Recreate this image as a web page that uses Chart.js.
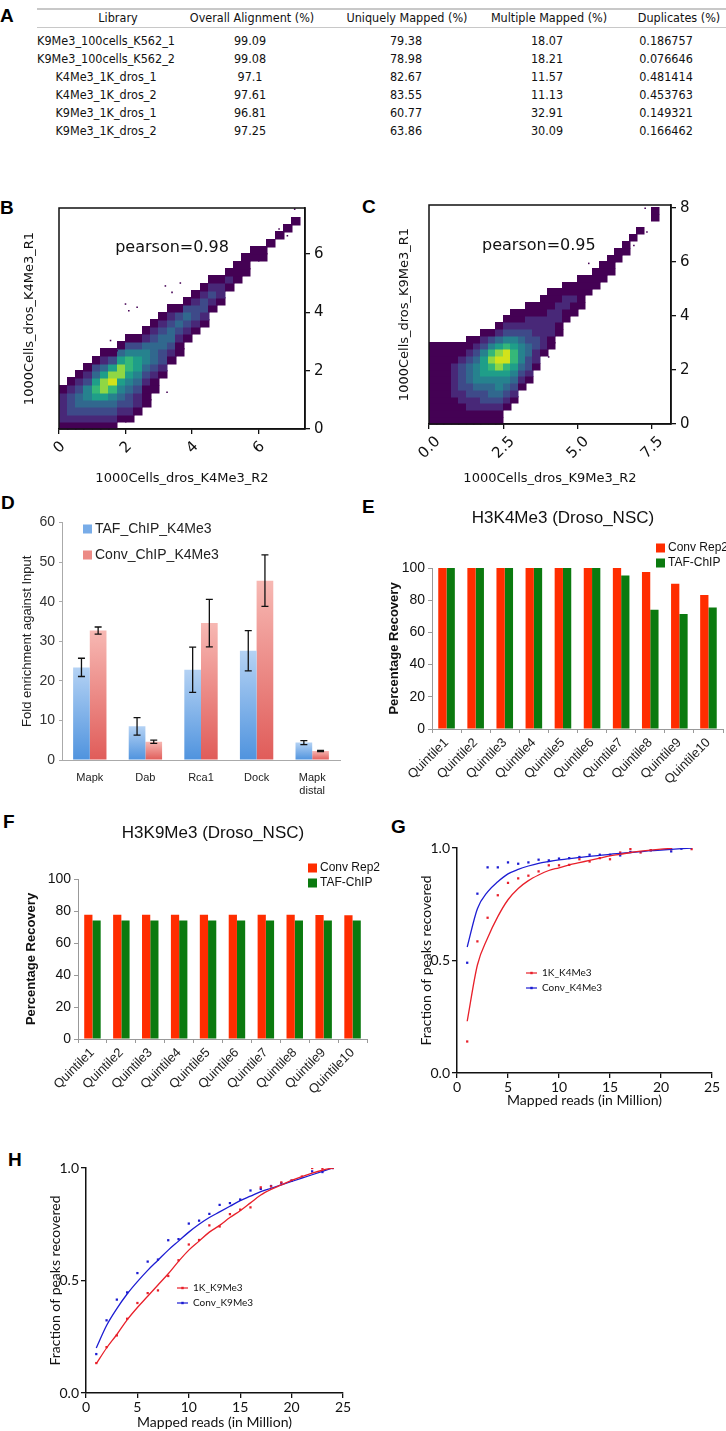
<!DOCTYPE html>
<html>
<head>
<meta charset="utf-8">
<script src="https://cdn.jsdelivr.net/npm/chart.js@4.4.1/dist/chart.umd.min.js"></script>
<style>
  body { margin: 0; background: #fff; }
  #page { position: relative; width: 726px; height: 1431px; overflow: hidden; background: #fff; }
  .letter { position: absolute; font: bold 19px "Liberation Sans", Arial, sans-serif; line-height: 20px; color: #000; }
  .cell { position: absolute; transform: translateX(-50%); white-space: nowrap;
          font-family: "Liberation Sans Narrow", "DejaVu Sans Condensed", sans-serif; font-stretch: condensed;
          font-size: 12.5px; line-height: 14px; color: #111; }
  .rule { position: absolute; left: 37px; width: 689px; background: #c8c8c8; }
  canvas { position: absolute; }
</style>
</head>
<body>
<div id="page">
  <div class="letter" style="left:0px;top:6px">A</div>
  <div class="letter" style="left:0px;top:198px">B</div>
  <div class="letter" style="left:362px;top:197px">C</div>
  <div class="letter" style="left:1px;top:493px">D</div>
  <div class="letter" style="left:362px;top:497px">E</div>
  <div class="letter" style="left:3px;top:812px">F</div>
  <div class="letter" style="left:391px;top:817px">G</div>
  <div class="letter" style="left:8px;top:1150px">H</div>
  <div class="rule" style="top:8px;height:2px"></div>
  <div class="rule" style="top:27px;height:1px"></div>
</div>
<script>
// ---------- A: alignment table ----------
const tableHeader = ["Library", "Overall Alignment (%)", "Uniquely Mapped (%)", "Multiple Mapped (%)", "Duplicates (%)"];
const libraries = ["K9Me3_100cells_K562_1", "K9Me3_100cells_K562_2", "K4Me3_1K_dros_1", "K4Me3_1K_dros_2", "K9Me3_1K_dros_1", "K9Me3_1K_dros_2"];
const overallAlignment = ["99.09", "99.08", "97.1", "97.61", "96.81", "97.25"];
const uniquelyMapped = ["79.38", "78.98", "82.67", "83.55", "60.77", "63.86"];
const multipleMapped = ["18.07", "18.21", "11.57", "11.13", "32.91", "30.09"];
const duplicates = ["0.186757", "0.076646", "0.481414", "0.453763", "0.149321", "0.166462"];

// ---------- B / C: density scatter (levels 1-9 per 0.25 x 0.25 cell, [first y bin, levels]) ----------
const densityBin = 0.25;
const k4me3Density = [
  [0, "122221"], [0, "1233321"], [0, "12344321"], [0, "123455321"],
  [0, "1234676431"], [0, "12346886421"], [0, "12345798631"], [1, "12345688641"],
  [1, "123345677531"], [2, "12234566531"], [3, "11123455421"], [5, "1123444321"],
  [7, "123344321"], [9, "12344321"], [10, "1123431"], [12, "123431"],
  [13, "123321"], [14, "123321"], [16, "12321"], [17, "1221"],
  [19, "121"], [20, "111"], [21, "111"], [23, "11"], [23, "11"],
  [25, "1"], [26, "1"], [27, "1"], [28, "1"]
];
const k4me3Outliers = [[2.0, 4.28], [2.1, 4.05], [2.35, 4.17], [3.2, 4.9], [3.65, 5.0], [3.4, 4.68],
  [1.55, 3.03], [1.75, 2.68], [3.25, 1.26], [2.3, 0.51], [6.62, 6.85], [6.97, 6.9], [7.09, 7.53], [6.87, 6.62]];
const k9me3Density = [
  [0, "111111111111"], [0, "111111111111"], [0, "111111111111"], [0, "111122222111"],
  [0, "111223333211"], [0, "1122334443211"], [0, "1122345554321"], [0, "11233456665321"],
  [0, "11234456787531"], [0, "112345568986421"], [2, "12345679975321"], [3, "12345677653211"],
  [5, "123455543211"], [6, "123344332211"], [8, "1223322211"], [10, "122222111"],
  [11, "112222111"], [13, "1122211"], [15, "112211"], [16, "11211"],
  [17, "11111"], [19, "111"], [20, "111"], [21, "111"], [22, "111"],
  [24, "11"], [25, "11"], [27, "1"], [28, "1"], [0, ""], [30, "11"]
];
const k9me3Outliers = [[4.03, 2.48], [6.9, 6.6], [7.28, 7.98], [7.68, 8.0], [7.68, 7.54], [7.34, 7.1], [5.38, 5.94], [1.28, 3.1]];

// ---------- D: qPCR fold enrichment ----------
const genes = [["Mapk"], ["Dab"], ["Rca1"], ["Dock"], ["Mapk", "distal"]];
const tafChip = [23.4, 8.5, 22.8, 27.6, 4.4];
const tafChipErr = [2.3, 2.2, 5.7, 5.1, 0.5];
const convChip = [32.7, 4.6, 34.6, 45.3, 2.3];
const convChipErr = [0.9, 0.4, 6.0, 6.5, 0.15];

// ---------- E / F: percentage recovery ----------
const quintiles = ["Quintile1", "Quintile2", "Quintile3", "Quintile4", "Quintile5", "Quintile6", "Quintile7", "Quintile8", "Quintile9", "Quintile10"];
const k4ConvRep2 = [100, 100, 100, 100, 100, 100, 100, 97.5, 90.2, 83.2];
const k4TafChip = [100, 100, 100, 100, 100, 100, 95.4, 74.0, 71.5, 75.5];
const k9ConvRep2 = [77.7, 77.7, 77.7, 77.7, 77.7, 77.7, 77.7, 77.6, 77.5, 77.4];
const k9TafChip = [74.0, 74.0, 74.0, 74.0, 74.0, 74.0, 74.0, 74.0, 74.0, 74.0];

// ---------- G / H: saturation curves ----------
const readsG = [1, 2, 3, 4, 5, 6, 7, 8, 9, 10, 11, 12, 13, 14, 15, 16, 17, 18, 19, 20, 21, 22, 23];
const k4OneK = [0.14, 0.585, 0.69, 0.79, 0.845, 0.865, 0.877, 0.896, 0.923, 0.923, 0.925, 0.95, 0.94, 0.955, 0.95, 0.98, 0.995, 0.98, 0.99, null, 0.995, null, 0.995];
const k4OneKFit = [0.23, 0.48, 0.6, 0.695, 0.77, 0.82, 0.855, 0.88, 0.9, 0.912, 0.925, 0.935, 0.945, 0.955, 0.965, 0.972, 0.98, 0.986, 0.991, 0.995, 0.998, null, null];
const k4Conv = [0.49, 0.797, 0.914, 0.914, 0.936, 0.93, 0.936, 0.948, 0.945, 0.953, 0.955, 0.96, 0.97, 0.97, 0.97, 0.967, 0.982, null, 0.99, null, 0.985, 0.997, null];
const k4ConvFit = [0.56, 0.73, 0.805, 0.85, 0.885, 0.905, 0.92, 0.932, 0.94, 0.947, 0.953, 0.958, 0.963, 0.967, 0.972, 0.976, 0.98, 0.984, 0.988, 0.991, 0.994, 0.997, 1.0];
const readsH = [1, 2, 3, 4, 5, 6, 7, 8, 9, 10, 11, 12, 13, 14, 15, 16, 17, 18, 19, 20, 21, 22, 23, 24];
const k9OneK = [0.133, 0.204, 0.256, 0.33, 0.40, 0.444, 0.456, 0.52, 0.59, 0.66, 0.68, 0.745, 0.74, 0.795, 0.815, 0.825, 0.914, 0.918, 0.936, 0.944, 0.962, 1.0, 0.997, 1.0];
const k9OneKFit = [0.13, 0.2, 0.26, 0.325, 0.38, 0.43, 0.48, 0.53, 0.585, 0.635, 0.675, 0.715, 0.745, 0.78, 0.81, 0.845, 0.88, 0.905, 0.925, 0.945, 0.962, 0.977, 0.99, 1.0];
const k9Conv = [0.173, 0.323, 0.415, 0.447, 0.533, 0.584, 0.593, 0.679, 0.684, 0.753, 0.766, 0.796, 0.836, 0.844, 0.86, 0.9, 0.907, 0.92, 0.933, 0.944, null, 0.985, 0.982, 1.0];
const k9ConvFit = [0.2, 0.3, 0.375, 0.44, 0.495, 0.545, 0.59, 0.635, 0.675, 0.715, 0.75, 0.78, 0.805, 0.83, 0.855, 0.875, 0.895, 0.91, 0.925, 0.94, 0.955, 0.97, 0.985, 1.0];

// ================= drawing =================
const page = document.getElementById("page");

// table
const headerX = [118, 252, 407, 549, 679];
const valueX = [106, 250, 406, 547, 666];
const rowY = [41, 59, 77, 95, 113, 131];
function addCell(text, x, y) {
  const d = document.createElement("div");
  d.className = "cell";
  d.textContent = text;
  d.style.left = x + "px";
  d.style.top = (y - 7) + "px";
  page.appendChild(d);
}
tableHeader.forEach((h, i) => addCell(h, headerX[i], 18));
[libraries, overallAlignment, uniquelyMapped, multipleMapped, duplicates].forEach((col, c) => {
  col.forEach((v, r) => addCell(v, valueX[c], rowY[r]));
});

Chart.defaults.animation = false;
Chart.defaults.color = "#000";
Chart.defaults.font.family = '"Liberation Sans", Arial, sans-serif';
Chart.defaults.plugins.legend.display = false;
Chart.defaults.plugins.tooltip.enabled = false;

function makeCanvas(left, top, w, h) {
  const c = document.createElement("canvas");
  c.width = w; c.height = h;
  c.style.left = left + "px"; c.style.top = top + "px";
  c.style.width = w + "px"; c.style.height = h + "px";
  page.appendChild(c);
  return c;
}
const fixW = n => s => { s.width = n; };
const fixH = n => s => { s.height = n; };

const viridis = [null, "#440154", "#482878", "#3e4a89", "#31688e", "#26828e", "#1f9e89", "#35b779", "#8fd744", "#d2e21b"];

const heatPlugin = {
  id: "heat",
  beforeDatasetsDraw(chart, args, o) {
    const { ctx, scales: { x, y } } = chart;
    ctx.save();
    o.columns.forEach(([start, levels], i) => {
      const x0 = x.getPixelForValue(i * o.bin), x1 = x.getPixelForValue((i + 1) * o.bin);
      for (let k = 0; k < levels.length; k++) {
        const lv = +levels[k];
        if (!lv) continue;
        const j = start + k;
        const y0 = y.getPixelForValue(j * o.bin), y1 = y.getPixelForValue((j + 1) * o.bin);
        ctx.fillStyle = viridis[lv];
        ctx.fillRect(Math.floor(x0), Math.floor(y1), Math.ceil(x1 - x0) + 0.5, Math.ceil(y0 - y1) + 0.5);
      }
    });
    ctx.restore();
  }
};

const framePlugin = {
  id: "frame",
  afterDatasetsDraw(chart, args, o) {
    const { ctx, chartArea: a } = chart;
    ctx.save();
    ctx.strokeStyle = o.color; ctx.lineWidth = o.width;
    ctx.strokeRect(a.left, a.top, a.right - a.left, a.bottom - a.top);
    ctx.restore();
  }
};

const notesPlugin = {
  id: "notes",
  afterDraw(chart, args, o) {
    const ctx = chart.ctx;
    ctx.save();
    o.items.forEach(it => {
      ctx.font = it.font;
      ctx.fillStyle = it.color || "#000";
      ctx.textAlign = it.align || "center";
      ctx.textBaseline = "middle";
      const px = it.data ? chart.scales.x.getPixelForValue(it.x) : it.x;
      const py = it.data ? chart.scales.y.getPixelForValue(it.y) : it.y;
      ctx.fillText(it.text, px, py);
    });
    ctx.restore();
  }
};

const keysPlugin = {
  id: "keys",
  afterDraw(chart, args, o) {
    const ctx = chart.ctx;
    ctx.save();
    ctx.font = o.font;
    ctx.textBaseline = "middle";
    ctx.textAlign = "left";
    o.which.forEach((di, k) => {
      const ds = chart.data.datasets[di];
      const y = o.y + k * o.dy;
      if (o.kind === "line") {
        ctx.strokeStyle = ds.keyColor; ctx.lineWidth = 1.2;
        ctx.beginPath(); ctx.moveTo(o.x, y); ctx.lineTo(o.x + o.len, y); ctx.stroke();
        ctx.fillStyle = ds.keyColor;
        ctx.fillRect(o.x + o.len / 2 - 1.2, y - 1.2, 2.4, 2.4);
      } else {
        ctx.fillStyle = ds.keyColor;
        ctx.fillRect(o.x, y - o.size / 2, o.size, o.size);
      }
      ctx.fillStyle = o.color || "#000";
      ctx.fillText(ds.label, o.x + o.textDx, y);
    });
    ctx.restore();
  }
};

const errPlugin = {
  id: "errbars",
  afterDatasetsDraw(chart) {
    const ctx = chart.ctx, y = chart.scales.y;
    ctx.save();
    ctx.strokeStyle = "#111"; ctx.lineWidth = 1.3;
    chart.data.datasets.forEach((ds, di) => {
      if (!ds.errors) return;
      chart.getDatasetMeta(di).data.forEach((bar, i) => {
        const v = ds.data[i], e = ds.errors[i];
        const yt = y.getPixelForValue(v + e), yb = y.getPixelForValue(v - e);
        ctx.beginPath();
        ctx.moveTo(bar.x, yt); ctx.lineTo(bar.x, yb);
        ctx.moveTo(bar.x - 3.5, yt); ctx.lineTo(bar.x + 3.5, yt);
        ctx.moveTo(bar.x - 3.5, yb); ctx.lineTo(bar.x + 3.5, yb);
        ctx.stroke();
      });
    });
    ctx.restore();
  }
};

// ---- B & C ----
function densityChart(canvas, cfg) {
  const dv = { family: "DejaVu Sans", size: 15 };
  const tickGrid = { drawOnChartArea: false, drawTicks: true, tickLength: 5, color: "#111", lineWidth: 1.3 };
  new Chart(canvas, {
    type: "scatter",
    data: {
      datasets: [{
        data: cfg.outliers.map(([x, y]) => ({ x, y })),
        pointStyle: "rect", pointRadius: 1.1, borderWidth: 0, backgroundColor: "#440154"
      }]
    },
    options: {
      responsive: false, devicePixelRatio: 1,
      layout: { padding: { top: cfg.padTop, left: 0, right: 0, bottom: 0 } },
      scales: {
        x: {
          type: "linear", min: 0, max: cfg.xMax, afterFit: fixH(cfg.xAxisH),
          ticks: { stepSize: cfg.xStep, includeBounds: false, minRotation: 45, maxRotation: 45,
                   labelOffset: cfg.labelShift, padding: 4, font: dv, color: "#111",
                   callback: cfg.xFmt },
          grid: tickGrid, border: { color: "#111", width: 1.5 },
          title: { display: true, text: cfg.xTitle, color: "#111", font: { family: "DejaVu Sans", size: 13 }, padding: { top: 0, bottom: 4 } }
        },
        y: {
          type: "linear", position: "right", min: 0, max: cfg.yMax, afterFit: fixW(cfg.rightW),
          ticks: { stepSize: 2, includeBounds: false, padding: 4, font: dv, color: "#111" },
          grid: tickGrid, border: { color: "#111", width: 1.5 }
        },
        yl: {
          type: "linear", position: "left", afterFit: fixW(cfg.leftW),
          ticks: { display: false }, grid: { display: false }, border: { display: false },
          title: { display: true, text: cfg.yTitle, color: "#111", font: { family: "DejaVu Sans", size: 13 }, padding: { top: cfg.yTitlePad } }
        }
      },
      plugins: {
        heat: { columns: cfg.density, bin: densityBin },
        frame: { color: "#111", width: 1.5 },
        notes: { items: [{ text: cfg.note, x: cfg.noteAt[0], y: cfg.noteAt[1], data: true, font: '16px "DejaVu Sans"', color: "#111" }] }
      }
    },
    plugins: [heatPlugin, framePlugin, notesPlugin]
  });
}

densityChart(makeCanvas(0, 190, 363, 300), {
  density: k4me3Density, outliers: k4me3Outliers, xMax: 7.4, yMax: 7.57, xStep: 2,
  xFmt: v => v, labelShift: 4, padTop: 18, xAxisH: 61, rightW: 58, leftW: 59, yTitlePad: 22,
  xTitle: "1000Cells_dros_K4Me3_R2", yTitle: "1000Cells_dros_K4Me3_R1",
  note: "pearson=0.98", noteAt: [3.4, 6.2]
});
densityChart(makeCanvas(363, 190, 363, 300), {
  density: k9me3Density, outliers: k9me3Outliers, xMax: 8.15, yMax: 8.1, xStep: 2.5,
  xFmt: v => v.toFixed(1), labelShift: 9, padTop: 15, xAxisH: 66, rightW: 55, leftW: 66, yTitlePad: 34,
  xTitle: "1000Cells_dros_K9Me3_R2", yTitle: "1000Cells_dros_K9Me3_R1",
  note: "pearson=0.95", noteAt: [3.7, 6.6]
});

// ---- D ----
function barGradient(top, bottom) {
  return function (c) {
    const chart = c.chart;
    if (!chart.chartArea || c.type !== "data") return bottom;
    const y = chart.scales.y;
    const g = chart.ctx.createLinearGradient(0, y.getPixelForValue(c.parsed.y), 0, y.getPixelForValue(0));
    g.addColorStop(0, top);
    g.addColorStop(1, bottom);
    return g;
  };
}
new Chart(makeCanvas(0, 505, 363, 290), {
  type: "bar",
  data: {
    labels: genes,
    datasets: [
      { label: "TAF_ChIP_K4Me3", data: tafChip, errors: tafChipErr, keyColor: "#78ace8",
        backgroundColor: barGradient("#b4d2f4", "#4f93de"), categoryPercentage: 0.6, barPercentage: 1.0 },
      { label: "Conv_ChIP_K4Me3", data: convChip, errors: convChipErr, keyColor: "#ec8a85",
        backgroundColor: barGradient("#f7b8b3", "#e05c59"), categoryPercentage: 0.6, barPercentage: 1.0 }
    ]
  },
  options: {
    responsive: false, devicePixelRatio: 1,
    layout: { padding: { top: 17.5, right: 23, left: 0, bottom: 0 } },
    scales: {
      x: {
        afterFit: fixH(35),
        ticks: { font: { size: 11 }, color: "#222", padding: 3, maxRotation: 0 },
        grid: { display: false }, border: { color: "#aaa" }
      },
      y: {
        min: 0, max: 60, afterFit: fixW(62),
        ticks: { stepSize: 10, font: { size: 14 }, color: "#333", padding: 4 },
        grid: { drawOnChartArea: false, drawTicks: true, tickLength: 3, color: "#aaa" },
        border: { color: "#aaa" },
        title: { display: true, text: "Fold enrichment against Input", font: { size: 13 }, color: "#222", padding: { top: 20 } }
      }
    },
    plugins: {
      keys: { which: [0, 1], x: 83, y: 24, dy: 26, size: 9, textDx: 12, font: '14px "Liberation Sans", Arial', color: "#222" }
    }
  },
  plugins: [errPlugin, keysPlugin]
});

// ---- E & F ----
function recoveryChart(canvas, cfg) {
  new Chart(canvas, {
    type: "bar",
    data: {
      labels: quintiles,
      datasets: [
        { label: "Conv Rep2", data: cfg.conv, backgroundColor: "#ff2d00", keyColor: "#ff2d00", categoryPercentage: 0.57, barPercentage: 1.0 },
        { label: "TAF-ChIP", data: cfg.taf, backgroundColor: "#0b7a0f", keyColor: "#0b7a0f", categoryPercentage: 0.57, barPercentage: 1.0 }
      ]
    },
    options: {
      responsive: false, devicePixelRatio: 1,
      layout: { padding: { top: cfg.padTop, right: cfg.padRight, left: 0, bottom: 0 } },
      scales: {
        x: {
          afterFit: fixH(cfg.xAxisH),
          ticks: { font: { size: 13 }, color: "#222", minRotation: 45, maxRotation: 45, autoSkip: false, padding: 2 },
          grid: { drawOnChartArea: false, drawTicks: true, tickLength: 4, color: "#999" },
          border: { color: "#999" }
        },
        y: {
          min: 0, max: 100, afterFit: fixW(cfg.yAxisW),
          ticks: { stepSize: 10, font: { size: 14 }, color: "#111", padding: 3 },
          grid: { drawOnChartArea: false, drawTicks: true, tickLength: 4, color: "#999" },
          border: { color: "#999" },
          title: { display: true, text: "Percentage Recovery", font: { size: 13, weight: "bold" }, color: "#111", padding: { top: 24 } }
        }
      },
      plugins: {
        notes: { items: [{ text: cfg.title, x: cfg.titleAt[0], y: cfg.titleAt[1], font: '17px "Liberation Sans", Arial', color: "#111" }] },
        keys: { which: [0, 1], x: cfg.keyAt[0], y: cfg.keyAt[1], dy: 15, size: 9, textDx: 12, font: '12px "Liberation Sans", Arial', color: "#111" }
      }
    },
    plugins: [notesPlugin, keysPlugin]
  });
}
recoveryChart(makeCanvas(363, 505, 363, 300), {
  conv: k4ConvRep2, taf: k4TafChip, padTop: 63, padRight: 3, xAxisH: 76, yAxisW: 69,
  title: "H3K4Me3 (Droso_NSC)", titleAt: [200, 13], keyAt: [293, 43]
});
recoveryChart(makeCanvas(0, 800, 380, 305), {
  conv: k9ConvRep2, taf: k9TafChip, padTop: 79, padRight: 13, xAxisH: 66, yAxisW: 78,
  title: "H3K9Me3 (Droso_NSC)", titleAt: [213, 33], keyAt: [308, 68]
});

// ---- G & H ----
function pairs(xs, ys) {
  return xs.map((x, i) => ({ x, y: ys[i] })).filter(p => p.y !== null);
}
function saturationChart(canvas, cfg) {
  const red = "#e8202a", blue = "#1c1cd2";
  const lato = { family: "Lato", size: 14 };
  const axisGrid = { drawOnChartArea: false, drawTicks: true, tickLength: 5, color: "#111", lineWidth: 1.3 };
  new Chart(canvas, {
    type: "line",
    data: {
      datasets: [
        { label: cfg.names[0], data: pairs(cfg.reads, cfg.oneKFit), borderColor: red, keyColor: red, borderWidth: 1.3,
          pointRadius: 0, cubicInterpolationMode: "monotone", fill: false },
        { label: cfg.names[1], data: pairs(cfg.reads, cfg.convFit), borderColor: blue, keyColor: blue, borderWidth: 1.3,
          pointRadius: 0, cubicInterpolationMode: "monotone", fill: false },
        { label: "", data: pairs(cfg.reads, cfg.oneK), showLine: false, pointStyle: "rect", pointRadius: 1.6,
          borderWidth: 0, backgroundColor: red },
        { label: "", data: pairs(cfg.reads, cfg.conv), showLine: false, pointStyle: "rect", pointRadius: 1.6,
          borderWidth: 0, backgroundColor: blue }
      ]
    },
    options: {
      responsive: false, devicePixelRatio: 1,
      layout: { padding: { top: cfg.padTop, right: cfg.padRight, left: 0, bottom: 0 } },
      scales: {
        x: {
          type: "linear", min: 0, max: 25, afterFit: fixH(cfg.xAxisH),
          ticks: { stepSize: 5, font: lato, color: "#111", padding: 1 },
          grid: axisGrid, border: { color: "#111", width: 1.5 },
          title: { display: true, text: "Mapped reads (in Million)", font: lato, color: "#111", padding: { top: 0, bottom: cfg.xTitlePad } }
        },
        y: {
          type: "linear", min: 0, max: 1, afterFit: fixW(cfg.yAxisW),
          ticks: { stepSize: 0.5, font: lato, color: "#111", padding: 2, callback: v => v.toFixed(1) },
          grid: axisGrid, border: { color: "#111", width: 1.5 },
          title: { display: true, text: "Fraction of peaks recovered", font: lato, color: "#111", padding: { top: cfg.yTitlePad } }
        }
      },
      plugins: {
        keys: { which: [0, 1], kind: "line", x: cfg.keyAt[0], y: cfg.keyAt[1], dy: 15, len: 11, textDx: 16,
                font: '10px Lato', color: "#111" }
      }
    },
    plugins: [keysPlugin]
  });
}
saturationChart(makeCanvas(390, 830, 336, 282), {
  reads: readsG, oneK: k4OneK, oneKFit: k4OneKFit, conv: k4Conv, convFit: k4ConvFit,
  names: ["1K_K4Me3", "Conv_K4Me3"], padTop: 18, padRight: 14, xAxisH: 39, yAxisW: 67,
  xTitlePad: 3, yTitlePad: 28, keyAt: [136, 143]
});
saturationChart(makeCanvas(0, 1140, 363, 291), {
  reads: readsH, oneK: k9OneK, oneKFit: k9OneKFit, conv: k9Conv, convFit: k9ConvFit,
  names: ["1K_K9Me3", "Conv_K9Me3"], padTop: 28, padRight: 20, xAxisH: 38, yAxisW: 86,
  xTitlePad: 0, yTitlePad: 47, keyAt: [177, 148]
});
</script>
</body>
</html>
